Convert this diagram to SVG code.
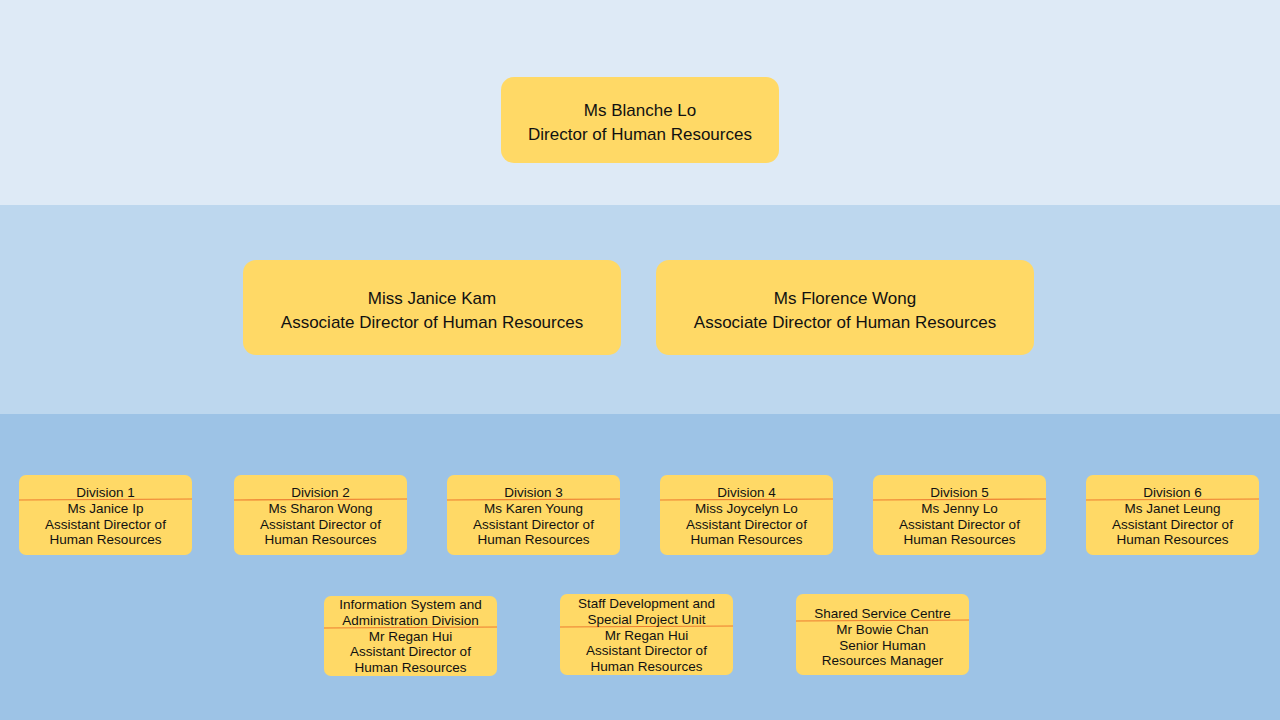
<svg xmlns="http://www.w3.org/2000/svg" width="1280" height="720" viewBox="0 0 1280 720">
<style>
.box{fill:#FFD966;}
.t{font-family:"Liberation Sans",Arial,sans-serif;fill:#111;text-anchor:middle;dominant-baseline:central;}
.big{font-size:17px;}
.sm{font-size:13.5px;}
.div{stroke:#ED7D31;stroke-width:1.2;}
</style>
<rect x="0" y="0" width="1280" height="205" fill="#DEEAF6"/>
<rect x="0" y="205" width="1280" height="209" fill="#BDD7EE"/>
<rect x="0" y="414" width="1280" height="306" fill="#9DC3E6"/>
<g id="connectors"/>
<g id="director">
<rect class="box" x="501" y="77" width="278" height="86" rx="13"/>
<text class="t big" x="640" y="110">Ms Blanche Lo</text>
<text class="t big" x="640" y="134">Director of Human Resources</text>
</g>
<g id="assoc1">
<rect class="box" x="243" y="260" width="378" height="95" rx="13"/>
<text class="t big" x="432" y="298">Miss Janice Kam</text>
<text class="t big" x="432" y="322">Associate Director of Human Resources</text>
</g>
<g id="assoc2">
<rect class="box" x="656" y="260" width="378" height="95" rx="13"/>
<text class="t big" x="845" y="298">Ms Florence Wong</text>
<text class="t big" x="845" y="322">Associate Director of Human Resources</text>
</g>
<g id="div1">
<rect class="box" x="19" y="475" width="173" height="80" rx="7"/>
<line class="div" x1="19" y1="500" x2="192" y2="499"/>
<text class="t sm" x="105.5" y="492.5">Division 1</text>
<text class="t sm" x="105.5" y="508.5">Ms Janice Ip</text>
<text class="t sm" x="105.5" y="524.5">Assistant Director of</text>
<text class="t sm" x="105.5" y="539.5">Human Resources</text>
</g>
<g id="div2">
<rect class="box" x="234" y="475" width="173" height="80" rx="7"/>
<line class="div" x1="234" y1="500" x2="407" y2="499"/>
<text class="t sm" x="320.5" y="492.5">Division 2</text>
<text class="t sm" x="320.5" y="508.5">Ms Sharon Wong</text>
<text class="t sm" x="320.5" y="524.5">Assistant Director of</text>
<text class="t sm" x="320.5" y="539.5">Human Resources</text>
</g>
<g id="div3">
<rect class="box" x="447" y="475" width="173" height="80" rx="7"/>
<line class="div" x1="447" y1="500" x2="620" y2="499"/>
<text class="t sm" x="533.5" y="492.5">Division 3</text>
<text class="t sm" x="533.5" y="508.5">Ms Karen Young</text>
<text class="t sm" x="533.5" y="524.5">Assistant Director of</text>
<text class="t sm" x="533.5" y="539.5">Human Resources</text>
</g>
<g id="div4">
<rect class="box" x="660" y="475" width="173" height="80" rx="7"/>
<line class="div" x1="660" y1="500" x2="833" y2="499"/>
<text class="t sm" x="746.5" y="492.5">Division 4</text>
<text class="t sm" x="746.5" y="508.5">Miss Joycelyn Lo</text>
<text class="t sm" x="746.5" y="524.5">Assistant Director of</text>
<text class="t sm" x="746.5" y="539.5">Human Resources</text>
</g>
<g id="div5">
<rect class="box" x="873" y="475" width="173" height="80" rx="7"/>
<line class="div" x1="873" y1="500" x2="1046" y2="499"/>
<text class="t sm" x="959.5" y="492.5">Division 5</text>
<text class="t sm" x="959.5" y="508.5">Ms Jenny Lo</text>
<text class="t sm" x="959.5" y="524.5">Assistant Director of</text>
<text class="t sm" x="959.5" y="539.5">Human Resources</text>
</g>
<g id="div6">
<rect class="box" x="1086" y="475" width="173" height="80" rx="7"/>
<line class="div" x1="1086" y1="500" x2="1259" y2="499"/>
<text class="t sm" x="1172.5" y="492.5">Division 6</text>
<text class="t sm" x="1172.5" y="508.5">Ms Janet Leung</text>
<text class="t sm" x="1172.5" y="524.5">Assistant Director of</text>
<text class="t sm" x="1172.5" y="539.5">Human Resources</text>
</g>
<g id="isad">
<rect class="box" x="324" y="596" width="173" height="80" rx="7"/>
<line class="div" x1="324" y1="628" x2="497" y2="627"/>
<text class="t sm" x="410.5" y="604.5">Information System and</text>
<text class="t sm" x="410.5" y="620.5">Administration Division</text>
<text class="t sm" x="410.5" y="636.5">Mr Regan Hui</text>
<text class="t sm" x="410.5" y="651.5">Assistant Director of</text>
<text class="t sm" x="410.5" y="667.5">Human Resources</text>
</g>
<g id="sdspu">
<rect class="box" x="560" y="594" width="173" height="81" rx="7"/>
<line class="div" x1="560" y1="627" x2="733" y2="626"/>
<text class="t sm" x="646.5" y="603.5">Staff Development and</text>
<text class="t sm" x="646.5" y="619.5">Special Project Unit</text>
<text class="t sm" x="646.5" y="635.5">Mr Regan Hui</text>
<text class="t sm" x="646.5" y="650.5">Assistant Director of</text>
<text class="t sm" x="646.5" y="666.5">Human Resources</text>
</g>
<g id="ssc">
<rect class="box" x="796" y="594" width="173" height="81" rx="7"/>
<line class="div" x1="796" y1="621" x2="969" y2="620"/>
<text class="t sm" x="882.5" y="613.5">Shared Service Centre</text>
<text class="t sm" x="882.5" y="629.5">Mr Bowie Chan</text>
<text class="t sm" x="882.5" y="645.5">Senior Human</text>
<text class="t sm" x="882.5" y="660.5">Resources Manager</text>
</g>
</svg>
